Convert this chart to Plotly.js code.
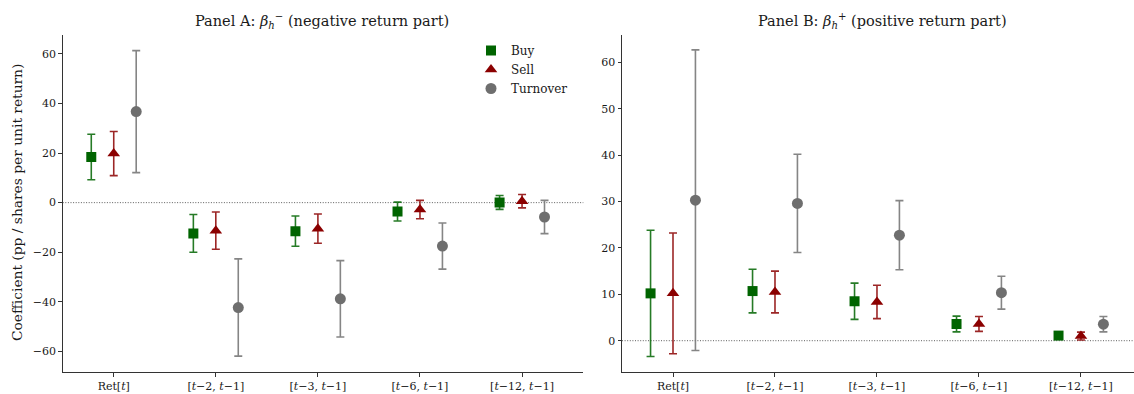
<!DOCTYPE html>
<html>
<head>
<meta charset="utf-8">
<script src="https://cdn.plot.ly/plotly-3.0.1.min.js"></script>
<style>html,body{margin:0;padding:0;background:#fff;overflow:hidden;}</style>
</head>
<body>
<div id="chart" style="width:1134px;height:394px;"></div>
<script>
// ---- data ----
const categories = ['Ret[t]', '[t−2, t−1]', '[t−3, t−1]', '[t−6, t−1]', '[t−12, t−1]'];
const tickLabels = ['Ret[<i>t</i>]', '[<i>t</i>−2, <i>t</i>−1]', '[<i>t</i>−3, <i>t</i>−1]', '[<i>t</i>−6, <i>t</i>−1]', '[<i>t</i>−12, <i>t</i>−1]'];
const seriesNames = ['Buy', 'Sell', 'Turnover'];

// Panel A: beta_h^- (negative return part)
const buyA = [18.4, -12.4, -11.5, -3.6, 0.1];
const buyAErr = [9.2, 7.6, 6.1, 3.8, 2.8];
const sellA = [19.8, -11.3, -10.5, -2.8, 0.6];
const sellAErr = [8.9, 7.5, 5.9, 3.7, 2.7];
const turnA = [36.7, -42.3, -38.8, -17.5, -5.8];
const turnAErr = [24.6, 19.6, 15.4, 9.3, 6.7];

// Panel B: beta_h^+ (positive return part)
const buyB = [10.2, 10.7, 8.5, 3.6, 1.1];
const buyBErr = [13.6, 4.7, 3.9, 1.7, 0.3];
const sellB = [10.2, 10.5, 8.35, 3.6, 1.0];
const sellBErr = [13.0, 4.5, 3.6, 1.6, 0.85];
const turnB = [30.3, 29.6, 22.75, 10.35, 3.55];
const turnBErr = [32.4, 10.6, 7.45, 3.55, 1.65];

// ---- styling ----
const FONT = 'DejaVu Serif, Liberation Serif, serif';
const styles = [
  {color: '#006400', err: 'rgba(0,100,0,0.85)', symbol: 'square', size: 10, offset: -0.22},
  {color: '#8b0000', err: 'rgba(139,0,0,0.85)', symbol: 'triangle-up', size: 11, offset: 0},
  {color: '#6e6e6e', err: 'rgba(120,120,120,0.9)', symbol: 'circle', size: 11, offset: 0.22}
];
const idx = categories.map((c, i) => i);

function mk(vals, errs, s, name, xa, ya, showlegend) {
  return {
    type: 'scatter', mode: 'markers', name: name,
    x: idx.map(i => i + styles[s].offset), y: vals,
    xaxis: xa, yaxis: ya, showlegend: showlegend,
    marker: {symbol: styles[s].symbol, size: styles[s].size, color: styles[s].color},
    error_y: {type: 'data', array: errs, visible: true, color: styles[s].err, thickness: 1.6, width: 4},
    hoverinfo: 'x+y'
  };
}

const traces = [
  mk(buyA, buyAErr, 0, seriesNames[0], 'x', 'y', true),
  mk(sellA, sellAErr, 1, seriesNames[1], 'x', 'y', true),
  mk(turnA, turnAErr, 2, seriesNames[2], 'x', 'y', true),
  mk(buyB, buyBErr, 0, seriesNames[0], 'x2', 'y2', false),
  mk(sellB, sellBErr, 1, seriesNames[1], 'x2', 'y2', false),
  mk(turnB, turnBErr, 2, seriesNames[2], 'x2', 'y2', false)
];

const W = 1134, H = 394, T = 35, B = 22;
const plotH = H - T - B;
const py = p => (H - B - p) / plotH; // pixel y -> paper y

const axisCommon = {
  showgrid: false, zeroline: false, showline: true, linecolor: '#333', linewidth: 1,
  ticks: 'outside', ticklen: 3.5, tickwidth: 1, tickcolor: '#333',
  tickfont: {family: FONT, size: 11, color: '#1a1a1a'}, automargin: false, fixedrange: true
};

const layout = {
  width: W, height: H,
  margin: {l: 0, r: 0, t: T, b: B},
  paper_bgcolor: '#fff', plot_bgcolor: '#fff',
  font: {family: FONT, color: '#1a1a1a'},
  xaxis: Object.assign({}, axisCommon, {domain: [62.7 / W, 583.3 / W], range: [-0.5, 4.6],
    tickmode: 'array', tickvals: idx, ticktext: tickLabels, anchor: 'y'}),
  yaxis: Object.assign({}, axisCommon, {domain: [0, 1], range: [-68.3, 67.6],
    tickmode: 'array', tickvals: [-60, -40, -20, 0, 20, 40, 60], anchor: 'x'}),
  xaxis2: Object.assign({}, axisCommon, {domain: [622 / W, 1], range: [-0.5, 4.52],
    tickmode: 'array', tickvals: idx, ticktext: tickLabels, anchor: 'y2'}),
  yaxis2: Object.assign({}, axisCommon, {domain: [0, 1], range: [-6.75, 65.9],
    tickmode: 'array', tickvals: [0, 10, 20, 30, 40, 50, 60], anchor: 'x2'}),
  showlegend: true,
  legend: {x: 471 / W, y: py(36), xanchor: 'left', yanchor: 'top',
    bgcolor: 'rgba(0,0,0,0)', font: {family: FONT, size: 12, color: '#1a1a1a'},
    tracegroupgap: 0, itemsizing: 'trace'},
  shapes: [
    {type: 'line', xref: 'x domain', yref: 'y', x0: 0, x1: 1, y0: 0, y1: 0,
      line: {color: '#333', width: 0.8, dash: '1px,1.6px'}, layer: 'below'},
    {type: 'line', xref: 'x2 domain', yref: 'y2', x0: 0, x1: 1, y0: 0, y1: 0,
      line: {color: '#333', width: 0.8, dash: '1px,1.6px'}, layer: 'below'}
  ],
  annotations: [
    {text: 'Panel A: <i>β</i><sub><i>h</i></sub><sup>−</sup> (negative return part)',
      xref: 'paper', yref: 'paper', x: 322 / W, y: py(21), xanchor: 'center', yanchor: 'middle',
      showarrow: false, font: {family: FONT, size: 14.5, color: '#1a1a1a'}},
    {text: 'Panel B: <i>β</i><sub><i>h</i></sub><sup>+</sup> (positive return part)',
      xref: 'paper', yref: 'paper', x: 882 / W, y: py(21), xanchor: 'center', yanchor: 'middle',
      showarrow: false, font: {family: FONT, size: 14.5, color: '#1a1a1a'}},
    {text: 'Coefficient (pp / shares per unit return)',
      xref: 'paper', yref: 'paper', x: 17 / W, y: py(203), xanchor: 'center', yanchor: 'middle',
      textangle: -90, showarrow: false, font: {family: FONT, size: 13.8, color: '#1a1a1a'}}
  ]
};

Plotly.newPlot('chart', traces, layout, {displayModeBar: false, staticPlot: true});
</script>
</body>
</html>
